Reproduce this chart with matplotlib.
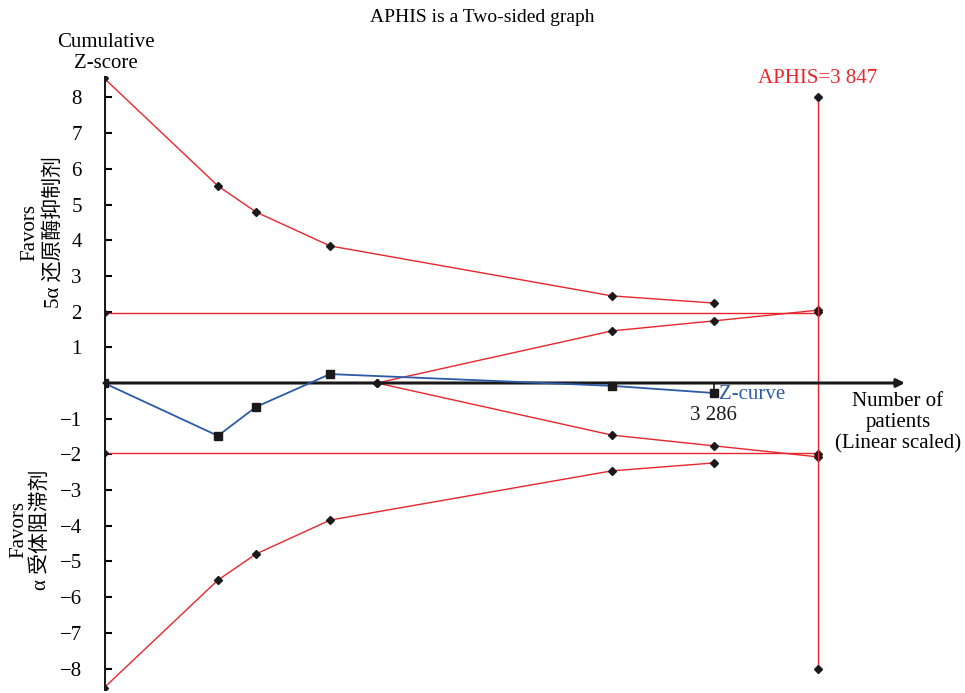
import numpy as np
import matplotlib
matplotlib.use("Agg")
import matplotlib.pyplot as plt

plt.rcParams["font.family"] = ["Liberation Serif", "Noto Sans CJK SC"]

# cumulative number of patients at each look
patients = [0, 614, 819, 1218, 1471, 2737, 3286, 3847]

# Z-curve (no look at 1471)
z_n = [0, 614, 819, 1218, 2737, 3286]
z_val = [0, -1.48, -0.67, 0.25, -0.08, -0.28]

# O'Brien-Fleming type boundaries
bound_n = [0, 614, 819, 1218, 2737, 3286]
upper_bound = [8.54, 5.52, 4.79, 3.84, 2.44, 2.24]
lower_bound = [-8.54, -5.52, -4.79, -3.84, -2.46, -2.24]

# inner wedge (futility)
wedge_n = [1471, 2737, 3286, 3847]
wedge_upper = [0, 1.46, 1.74, 2.04]
wedge_lower = [0, -1.46, -1.76, -2.07]

aphis = 3847
z_crit = 1.96
yticks = [-8, -7, -6, -5, -4, -3, -2, -1, 1, 2, 3, 4, 5, 6, 7, 8]
red = "#e8262b"
blue = "#2b5aa8"
dark = "#1a1a1a"

fig = plt.figure(figsize=(9.65, 6.93), dpi=100)
ax = fig.add_axes([104 / 965, 3 / 693, 801 / 965, 614 / 693])
ax.set_xlim(0, 4316)
ax.set_ylim(-8.6, 8.6)
for s in ax.spines.values():
    s.set_visible(False)

mk = dict(marker="D", ms=4, mfc=dark, mec=dark)

# conventional boundaries
ax.plot([0, aphis], [z_crit, z_crit], color=red, lw=1)
ax.plot([0, aphis], [-z_crit, -z_crit], color=red, lw=1)
ax.plot([0, 0], [z_crit, -z_crit], ls="none", **mk)

# monitoring boundaries
ax.plot(bound_n, upper_bound, color=red, lw=1, **mk)
ax.plot(bound_n, lower_bound, color=red, lw=1, **mk)
ax.plot([aphis, aphis], [1.98, -1.98], ls="none", **mk)
ax.plot(wedge_n, wedge_upper, color=red, lw=1, **mk)
ax.plot(wedge_n, wedge_lower, color=red, lw=1, **mk)

# required information size
ax.plot([aphis, aphis], [8, -8], color=red, lw=1, **mk)
ax.text(aphis, 8.25, "APHIS=3 847", color=red, fontsize=15, ha="center", va="bottom")

# axes lines
ax.plot([0, 0], [-8.54, 8.54], color=dark, lw=2.2, zorder=3)
ax.annotate("", xy=(4316, 0), xytext=(0, 0),
            arrowprops=dict(arrowstyle="-|>", color=dark, lw=2.2,
                            mutation_scale=12, shrinkA=0, shrinkB=0),
            annotation_clip=False)

# Z-curve
ax.plot(z_n, z_val, color=blue, lw=1.3, marker="s", ms=6, mfc=dark, mec=dark, zorder=4)
ax.plot([z_n[-1], z_n[-1]], [0, z_val[-1]], color=dark, lw=1.2)
ax.text(z_n[-1] + 30, z_val[-1] - 0.05, "Z-curve", color=blue, fontsize=15, ha="left", va="center")
ax.text(z_n[-1], -0.65, "3 286", color=dark, fontsize=15, ha="center", va="top")

ax.set_xticks([])
ax.set_yticks(yticks)
ax.set_yticklabels([f"\u2212{abs(v)}" if v < 0 else str(v) for v in yticks])
ax.tick_params(axis="y", direction="in", length=6, width=1.5, labelsize=15, pad=16)

fig.text(482 / 965, 1 - 17 / 693, "APHIS is a Two-sided graph", fontsize=14,
         ha="center", va="center")
fig.text(106 / 965, 1 - 53 / 693, "Cumulative\nZ-score", fontsize=15,
         ha="center", va="center", linespacing=1.15)
fig.text(42 / 965, 1 - 232 / 693, "Favors\n5α 还原酶抑制剂", fontsize=15, rotation=90,
         ha="center", va="center", linespacing=1.25)
fig.text(30 / 965, 1 - 530 / 693, "Favors\nα 受体阻滞剂", fontsize=15, rotation=90,
         ha="center", va="center", linespacing=1.25)
fig.text(898 / 965, 1 - 423 / 693, "Number of\npatients\n(Linear scaled)", fontsize=15,
         ha="center", va="center", linespacing=1.15)

fig.savefig("out.png", dpi=100)
